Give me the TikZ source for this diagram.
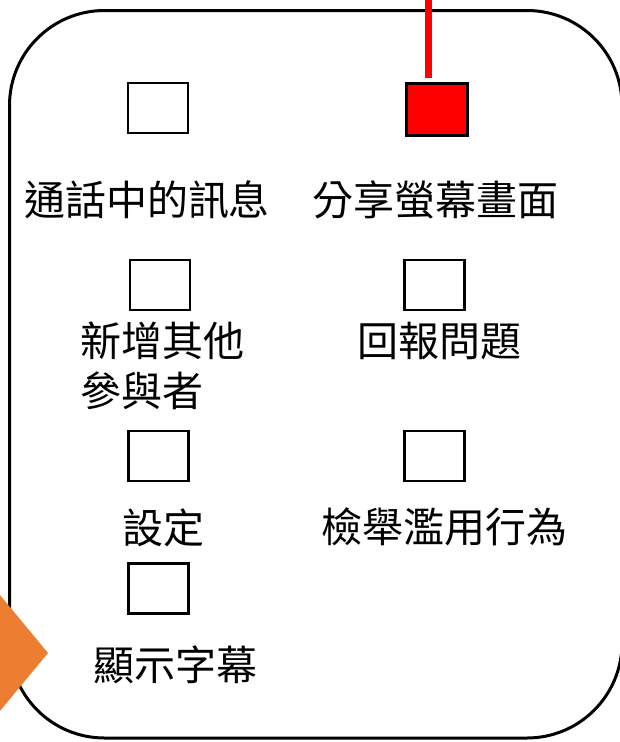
\documentclass[tikz,border=0pt]{standalone}
\usepackage{fontspec}
\newfontfamily\cjk{Noto Sans CJK TC}
\definecolor{frameorange}{HTML}{ED7D31}
\definecolor{markred}{HTML}{FF0000}
\begin{document}
\begin{tikzpicture}[x=1pt,y=-1pt,
  checkbox/.style={draw=black,line width=2.5pt,minimum width=60pt,minimum height=50pt,inner sep=0pt},
  label/.style={font=\cjk\fontsize{41}{50}\selectfont,inner sep=0pt,text=black}]
\useasboundingbox (0,0) rectangle (620,742);
\clip (0,0) rectangle (620,742);
\fill[white] (0,0) rectangle (620,742);
% panel
\draw[line width=3pt,rounded corners=95pt] (9.5,10.5) rectangle (622,738);
% checkboxes
\node[checkbox] (b1) at (158,108) {};
\node[checkbox,fill=markred,line width=3pt,minimum width=61pt,minimum height=52pt] (b2) at (436.5,109) {};
\node[checkbox] (b3) at (160,285) {};
\node[checkbox] (b4) at (434.5,285) {};
\node[checkbox] (b5) at (158.5,456) {};
\node[checkbox] (b6) at (434.5,456) {};
\node[checkbox] (b7) at (158.5,588.5) {};
% labels
\node[label] (t1) at (147,200) {通話中的訊息};
\node[label] (t2) at (435,200) {分享螢幕畫面};
\node[label,align=left,anchor=west] (t3) at (80,366) {新增其他\\參與者};
\node[label] (t4) at (439,341) {回報問題};
\node[label] (t5) at (163.5,528) {設定};
\node[label] (t6) at (444,527) {檢舉濫用行為};
\node[label] (t7) at (175.5,665) {顯示字幕};
% red pointer
\coordinate (ptop) at (428.5,-5);
\coordinate (pend) at (428.5,78);
\draw[markred,line width=7pt] (ptop) -- (pend);
% orange chevron
\fill[frameorange] (-10,583) -- (48,653) -- (-10,723) -- cycle;
\end{tikzpicture}
\end{document}
